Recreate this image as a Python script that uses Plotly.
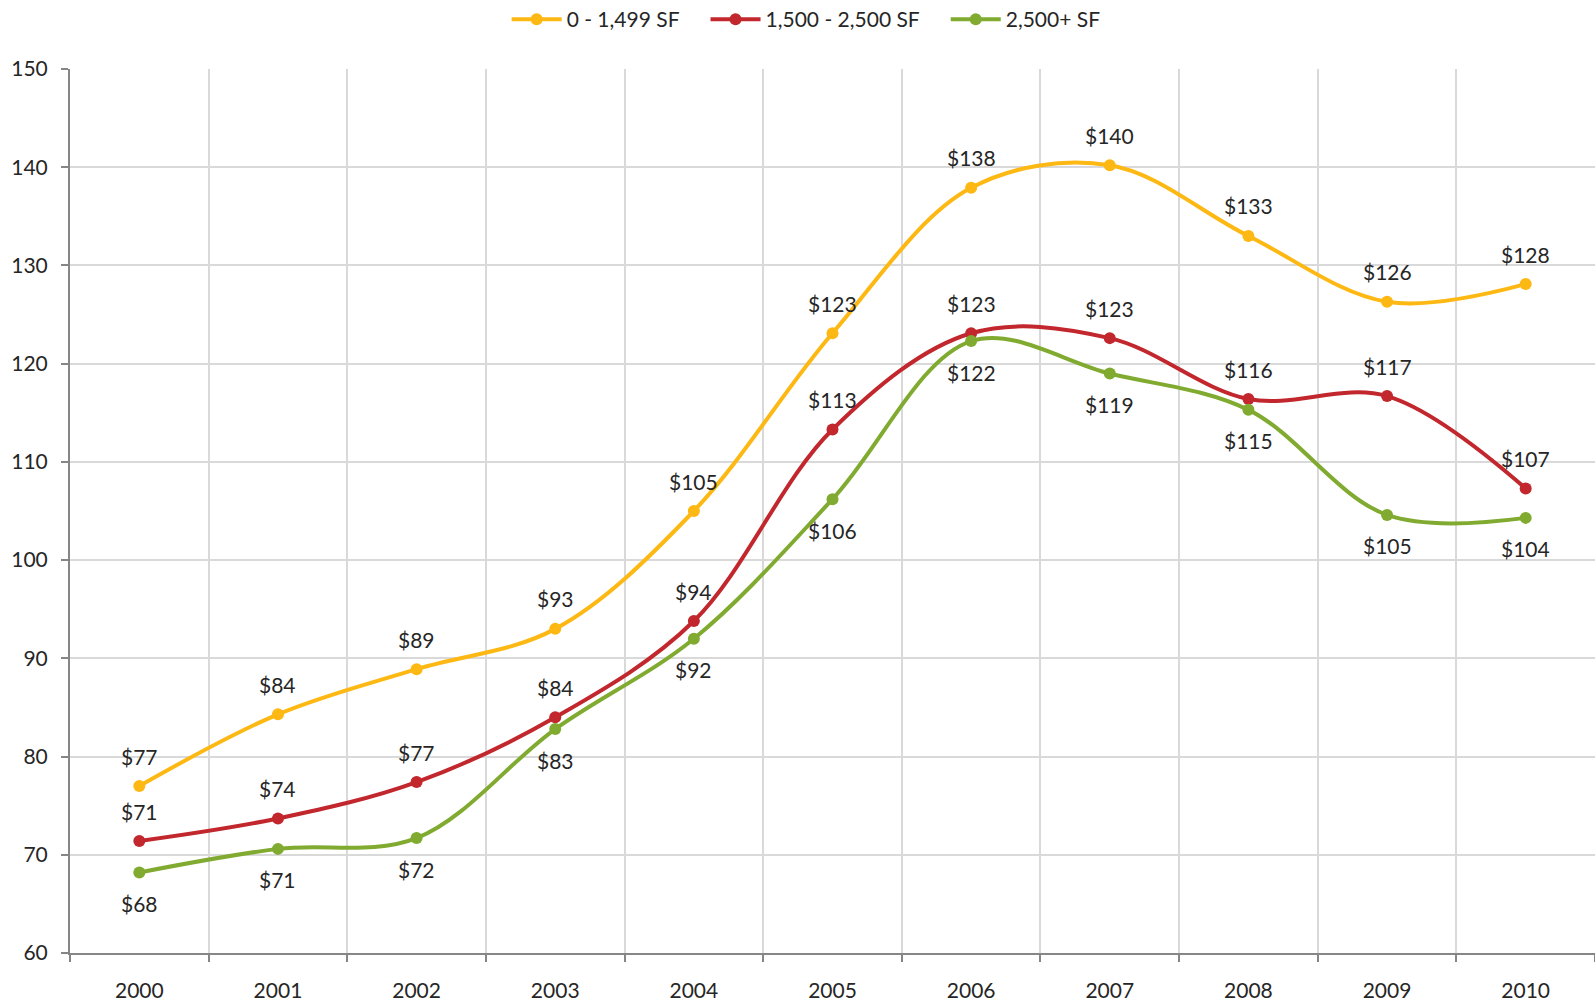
import plotly.graph_objects as go

years = ["2000", "2001", "2002", "2003", "2004", "2005", "2006", "2007", "2008", "2009", "2010"]
small = [77.0, 84.3, 88.9, 93.0, 105.0, 123.1, 137.9, 140.2, 133.0, 126.3, 128.1]
medium = [71.4, 73.7, 77.4, 84.0, 93.8, 113.3, 123.1, 122.6, 116.4, 116.7, 107.3]
large = [68.2, 70.6, 71.7, 82.8, 92.0, 106.2, 122.3, 119.0, 115.3, 104.6, 104.3]

series = [
    ("0 - 1,499 SF", small, "#FDB813", 30),
    ("1,500 - 2,500 SF", medium, "#C1272D", 30),
    ("2,500+ SF", large, "#80AB30", -31),
]

FONT = "Lato, 'Open Sans', sans-serif"
PAD = "\u00a0" * 4
fig = go.Figure()
annotations = []
for name, vals, color, shift in series:
    fig.add_trace(go.Scatter(
        x=years, y=vals, name=name + PAD, mode="lines+markers",
        line=dict(color=color, width=4, shape="spline", smoothing=1.0),
        marker=dict(color=color, size=12),
        hoverinfo="x+y",
    ))
    for i, v in enumerate(vals):
        annotations.append(dict(
            x=i, y=v, xref="x", yref="y", text="$" + str(round(v)), showarrow=False, yshift=shift,
            font=dict(size=21, color="#262626", family=FONT),
        ))

fig.update_layout(
    width=1595, height=1003,
    margin=dict(l=70, r=0, t=69, b=50),
    plot_bgcolor="white", paper_bgcolor="white",
    font=dict(family=FONT, size=21, color="#262626"),
    annotations=annotations,
    showlegend=True,
    legend=dict(
        orientation="h", xref="container", yref="container",
        x=0.512, xanchor="center", y=0.9805, yanchor="middle",
        font=dict(size=21, color="#262626"), itemwidth=50,
        traceorder="normal",
    ),
    xaxis=dict(
        type="category", range=[-0.5, 10.5], tickson="boundaries",
        showgrid=True, gridcolor="#D9D9D9", gridwidth=1.5,
        showline=True, linecolor="#868686", linewidth=2,
        ticks="outside", ticklen=7, tickcolor="#868686", tickwidth=2,
        tickfont=dict(size=21), ticklabelstandoff=18,
    ),
    yaxis=dict(
        range=[60, 150], dtick=10, tick0=60,
        showgrid=True, gridcolor="#D9D9D9", gridwidth=1.5,
        showline=True, linecolor="#868686", linewidth=2,
        ticks="outside", ticklen=7, tickcolor="#868686", tickwidth=2,
        tickfont=dict(size=21), zeroline=False, ticklabelstandoff=9,
    ),
)

fig.write_html(
    "out.html",
    config={"displayModeBar": False},
    post_script="document.body.style.margin='0';document.body.style.overflow='hidden';",
)
